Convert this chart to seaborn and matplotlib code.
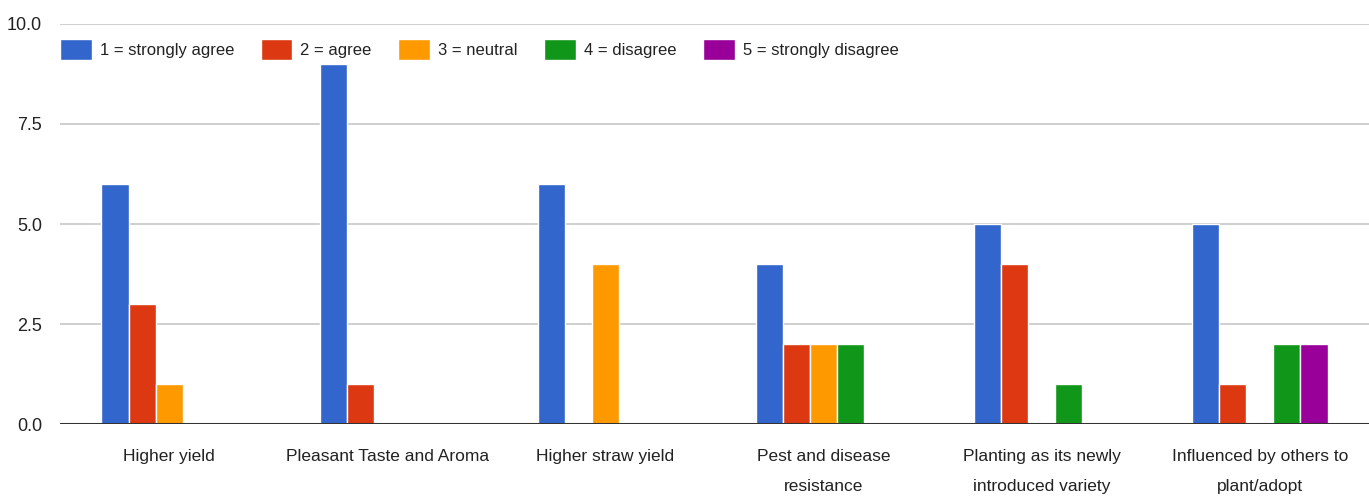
import matplotlib
matplotlib.use("Agg")
import matplotlib.pyplot as plt
import seaborn as sns
import pandas as pd

categories = [
    "Higher yield",
    "Pleasant Taste and Aroma",
    "Higher straw yield",
    "Pest and disease\nresistance",
    "Planting as its newly\nintroduced variety",
    "Influenced by others to\nplant/adopt",
]
responses = [
    "1 = strongly agree",
    "2 = agree",
    "3 = neutral",
    "4 = disagree",
    "5 = strongly disagree",
]
strongly_agree = [6, 9, 6, 4, 5, 5]
agree = [3, 1, 0, 2, 4, 1]
neutral = [1, 0, 4, 2, 0, 0]
disagree = [0, 0, 0, 2, 1, 2]
strongly_disagree = [0, 0, 0, 0, 0, 2]
yticks = [0.0, 2.5, 5.0, 7.5, 10.0]

colors = ["#3366CC", "#DC3912", "#FF9900", "#109618", "#990099"]

series = [strongly_agree, agree, neutral, disagree, strongly_disagree]
rows = []
for resp, vals in zip(responses, series):
    for cat, v in zip(categories, vals):
        rows.append({"category": cat, "response": resp, "count": v})
df = pd.DataFrame(rows)

sns.set_style("white")
plt.rcParams["font.family"] = ["Liberation Sans", "DejaVu Sans"]

fig = plt.figure(figsize=(13.69, 4.98), dpi=100)
ax = fig.add_axes([60 / 1369, 74 / 498, 1 - 60 / 1369, 400 / 498])

sns.barplot(
    data=df, x="category", y="count", hue="response",
    order=categories, hue_order=responses, palette=colors,
    width=0.62, saturation=1, edgecolor="white", linewidth=1,
    errorbar=None, ax=ax,
)

ax.set_ylim(0, 10)
ax.set_xlim(-0.5, len(categories) - 0.5)
ax.set_yticks(yticks)
ax.set_yticklabels([f"{t:.1f}" for t in yticks])
ax.yaxis.grid(True, color="#cccccc", linewidth=1.3)
ax.set_axisbelow(True)
ax.axhline(0, color="#333333", linewidth=2.2, zorder=5)
for s in ax.spines.values():
    s.set_visible(False)
ax.tick_params(axis="both", length=0, colors="#222222")
ax.tick_params(axis="y", pad=13, labelsize=13)
ax.tick_params(axis="x", pad=18, labelsize=12.5)
for lbl in ax.get_xticklabels():
    lbl.set_linespacing(2.25)
    lbl.set_verticalalignment("top")
ax.set_xlabel("")
ax.set_ylabel("")

handles, labels = ax.get_legend_handles_labels()
ax.legend(
    handles, labels, loc="upper left", bbox_to_anchor=(0.0, 0.962),
    ncol=5, frameon=False, fontsize=12, handlelength=1.9, handleheight=1.55,
    handletextpad=0.48, columnspacing=1.6, borderaxespad=0.0, borderpad=0.0,
    labelcolor="#222222",
)

fig.savefig("out.png", dpi=100)
